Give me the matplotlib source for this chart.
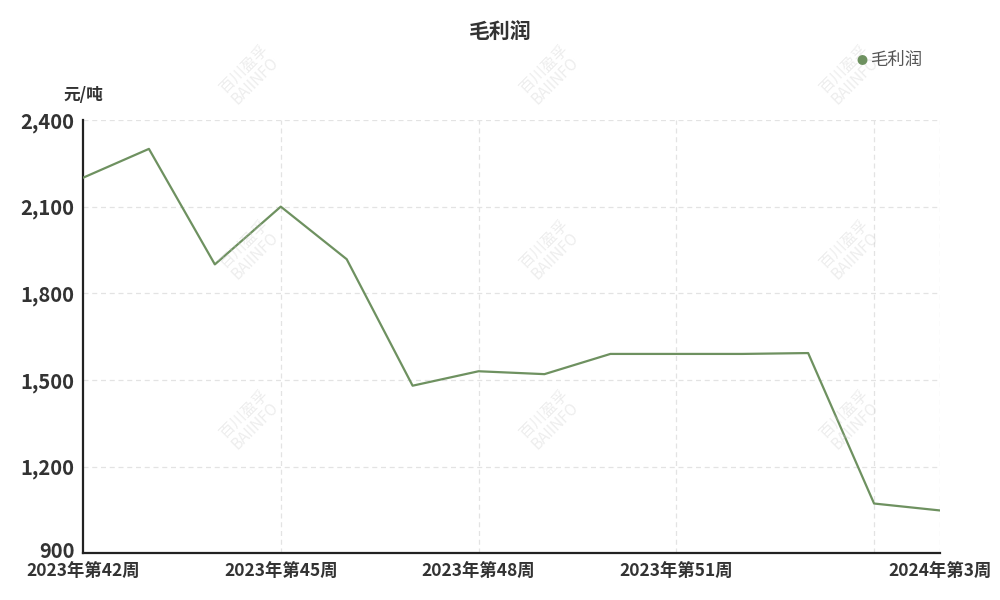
import matplotlib.pyplot as plt
import matplotlib.transforms as mtransforms
import numpy as np

plt.rcParams['font.family'] = ['Noto Sans CJK SC', 'DejaVu Sans']

# data
weeks = ['2023年第42周', '2023年第43周', '2023年第44周', '2023年第45周', '2023年第46周',
         '2023年第47周', '2023年第48周', '2023年第49周', '2023年第50周', '2023年第51周',
         '2023年第52周', '2024年第1周', '2024年第2周', '2024年第3周']
profit = [2200, 2300, 1900, 2100, 1918, 1480, 1530, 1520, 1590, 1590, 1590, 1593, 1072, 1048]
yticks = [900, 1200, 1500, 1800, 2100, 2400]
label_idx = [0, 3, 6, 9, 13]
grid_idx = [3, 6, 9, 12, 13]

line_color = '#6e9160'
text_color = '#333333'

fig = plt.figure(figsize=(10, 6), dpi=100)
ax = fig.add_axes([0.083, 0.078, 0.857, 0.722])

x = np.arange(len(weeks))
ax.plot(x, profit, color=line_color, linewidth=1.6, zorder=3)

ax.set_xlim(0, len(weeks) - 1)
ax.set_ylim(900, 2400)
ax.set_yticks(yticks)
ax.set_yticklabels([f'{v:,}' for v in yticks], fontsize=14.5, fontweight='bold', color=text_color)
ax.set_xticks(label_idx)
ax.set_xticklabels([weeks[i] for i in label_idx], fontsize=12.5, fontweight='bold', color=text_color)
ax.tick_params(axis='x', length=0, pad=7)
ax.tick_params(axis='y', length=0, pad=6)
for lbl in ax.get_yticklabels():
    lbl.set_va('center_baseline')
# lift the bottom "900" a little so it clears the x labels
first = ax.get_yticklabels()[0]
first.set_transform(first.get_transform() + mtransforms.ScaledTranslation(0, 4 / 100, fig.dpi_scale_trans))

# dashed grid
for v in yticks[1:]:
    ax.axhline(v, color='#e3e3e3', linestyle=(0, (4, 3)), linewidth=0.9, zorder=1)
for i in grid_idx:
    ax.axvline(i, color='#e3e3e3', linestyle=(0, (4, 3)), linewidth=0.9, zorder=1)

for s in ['top', 'right']:
    ax.spines[s].set_visible(False)
for s in ['left', 'bottom']:
    ax.spines[s].set_color('#222222')
    ax.spines[s].set_linewidth(1.6)

# faint watermarks
for wx in [250, 550, 850]:
    for wy in [75, 250, 420]:
        fig.text(wx / 1000, 1 - wy / 600, '百川盈孚\nBAIINFO', fontsize=11, color='#cccccc',
                 alpha=0.35, rotation=45, ha='center', va='center', linespacing=0.9)

fig.text(0.5, 1 - 31 / 600, '毛利润', fontsize=15, fontweight='bold', color=text_color,
         ha='center', va='center')
fig.text(0.083, 1 - 95 / 600, '元/吨', fontsize=12, fontweight='bold', color=text_color,
         ha='center', va='center')

# legend
fig.text(0.862, 1 - 61 / 600, '●', fontsize=8, color=line_color, ha='center', va='center')
fig.text(0.871, 1 - 60 / 600, '毛利润', fontsize=12.5, color='#555555', ha='left', va='center')

fig.savefig('out.png', dpi=100, facecolor='white')
